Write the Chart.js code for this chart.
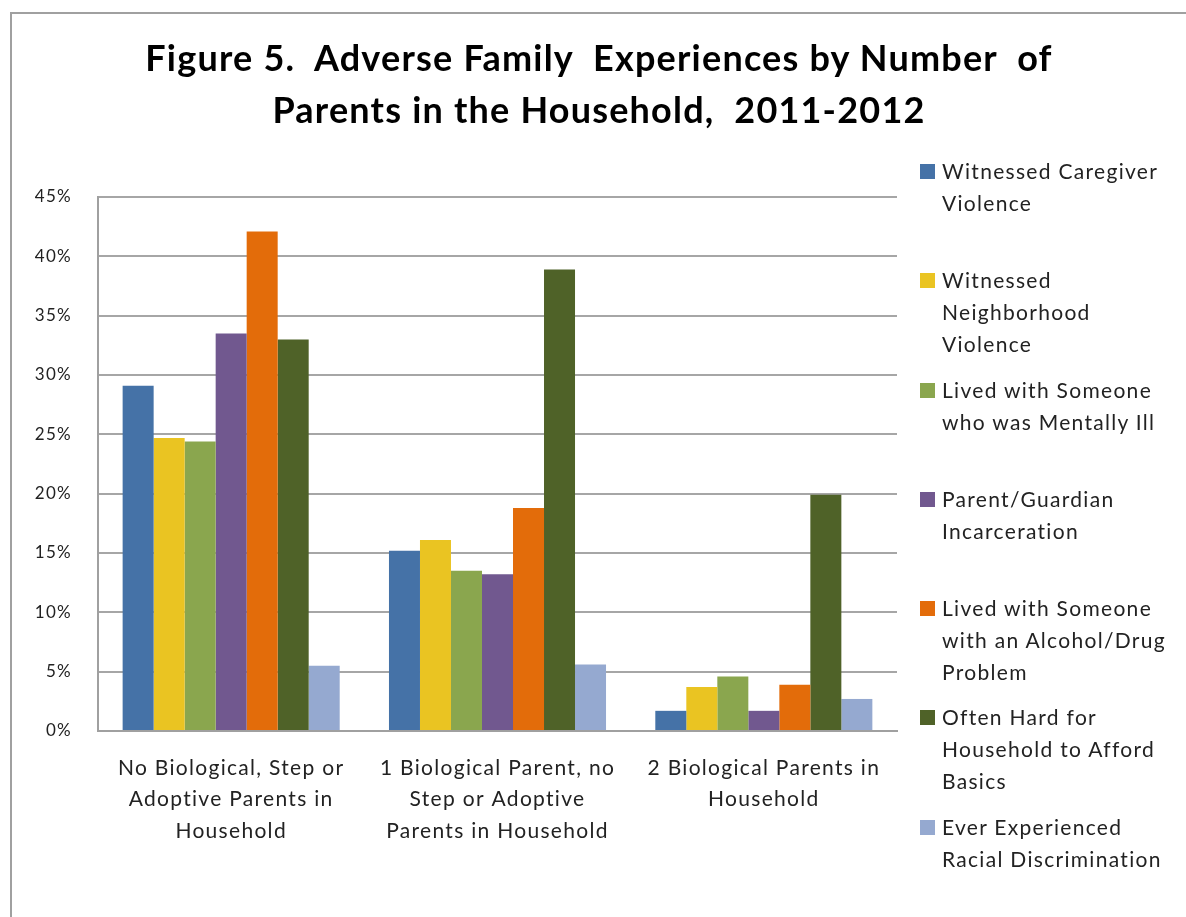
<!DOCTYPE html>
<html>
<head>
<meta charset="utf-8">
<script src="https://cdn.jsdelivr.net/npm/chart.js@4.4.1/dist/chart.umd.min.js"></script>
<style>
  html, body { margin: 0; padding: 0; background: #fff; overflow: hidden; }
  body { width: 1186px; height: 917px; position: relative; font-family: Lato, "Noto Sans", sans-serif; }
  #frame { position: absolute; left: 10px; top: 12px; width: 1200px; height: 1000px; border: 2px solid #a0a0a0; box-sizing: border-box; }
  #title { position: absolute; left: 12px; width: 1174px; top: 31px; text-align: center; font-weight: bold; font-size: 36px; letter-spacing: 1.2px; line-height: 52px; color: #000; }
  #wrap { position: absolute; left: 0; top: 0; width: 1186px; height: 917px; }
  #legend { position: absolute; left: 920px; top: 155px; color: #222; font-size: 21px; letter-spacing: 1.3px; }
  .item { position: relative; height: 109.3px; }
  .box { position: absolute; left: 0; top: 9px; width: 15px; height: 15px; }
  .txt { position: absolute; left: 22px; top: 0; line-height: 32px; white-space: nowrap; }
</style>
</head>
<body>
<div id="frame"></div>
<div id="wrap"><canvas id="chart"></canvas></div>
<div id="title">Figure 5.&nbsp; Adverse Family&nbsp; Experiences by Number&nbsp; of<br>Parents in the Household,&nbsp; 2011-2012</div>
<div id="legend"></div>
<script>
// categories (x axis, wrapped as in the original)
const CATEGORIES = [
  ["No Biological, Step or", "Adoptive Parents in", "Household"],
  ["1 Biological Parent, no", "Step or Adoptive", "Parents in Household"],
  ["2 Biological Parents in", "Household"],
];

// series names, wrapped like the legend
const SERIES = [
  ["Witnessed Caregiver", "Violence"],
  ["Witnessed", "Neighborhood", "Violence"],
  ["Lived with Someone", "who was Mentally Ill"],
  ["Parent/Guardian", "Incarceration"],
  ["Lived with Someone", "with an Alcohol/Drug", "Problem"],
  ["Often Hard for", "Household to Afford", "Basics"],
  ["Ever Experienced", "Racial Discrimination"],
];

const COLORS = ["#4572A7", "#EAC422", "#8AA64E", "#71588F", "#E36C0A", "#4F6228", "#95A9D0"];

// values in percent, one array per series (No parents / 1 bio parent / 2 bio parents)
const caregiverViolence = [29.1, 15.2, 1.7];
const neighborhoodViolence = [24.7, 16.1, 3.7];
const mentallyIll = [24.4, 13.5, 4.6];
const incarceration = [33.5, 13.2, 1.7];
const alcoholDrug = [42.1, 18.8, 3.9];
const hardToAfford = [33.0, 38.9, 19.9];
const racialDiscrimination = [5.5, 5.6, 2.7];

const VALUES = [caregiverViolence, neighborhoodViolence, mentallyIll, incarceration, alcoholDrug, hardToAfford, racialDiscrimination];

// y ticks
const Y_MAX = 45;
const Y_STEP = 5;

const datasets = SERIES.map((lines, i) => ({
  label: lines.join(" "),
  data: VALUES[i],
  backgroundColor: COLORS[i],
  borderWidth: 0,
  barPercentage: 1,
  categoryPercentage: 0.815,
}));

// legend (html, so the lines wrap like in the original)
const legendDiv = document.getElementById("legend");
SERIES.forEach((lines, i) => {
  const item = document.createElement("div");
  item.className = "item";
  item.innerHTML = '<div class="box" style="background:' + COLORS[i] + '"></div><div class="txt">' + lines.join("<br>") + "</div>";
  legendDiv.appendChild(item);
});

// the original font is narrower and more spaced, widen the canvas text a bit
const spacing = {
  id: "spacing",
  beforeDraw: (chart) => { chart.ctx.letterSpacing = "1.3px"; },
};

const ctx = document.getElementById("chart").getContext("2d");
const myChart = new Chart(ctx, {
  type: "bar",
  data: { labels: CATEGORIES, datasets: datasets },
  options: {
    responsive: true,
    maintainAspectRatio: false,
    animation: false,
    layout: { padding: { left: 0, right: 289, top: 197, bottom: 0 } },
    plugins: {
      legend: { display: false },
      title: { display: false },
      tooltip: { enabled: false },
    },
    scales: {
      x: {
        grid: { display: false, drawTicks: false },
        border: { color: "#a0a0a0", width: 2 },
        ticks: {
          color: "#222",
          font: { family: "Lato", size: 21, lineHeight: 1.5 },
          padding: 21,
          maxRotation: 0,
          autoSkip: false,
        },
        afterFit: (scale) => { scale.height = 186; },
      },
      y: {
        min: 0,
        max: Y_MAX,
        grid: { color: "#a6a6a6", lineWidth: 2, drawTicks: false },
        border: { color: "#a0a0a0", width: 2 },
        ticks: {
          stepSize: Y_STEP,
          color: "#222",
          font: { family: "Lato", size: 17 },
          padding: 26,
          callback: (v) => v + "%",
        },
        afterFit: (scale) => { scale.width = 98; },
      },
    },
  },
  plugins: [spacing],
});
</script>
</body>
</html>
